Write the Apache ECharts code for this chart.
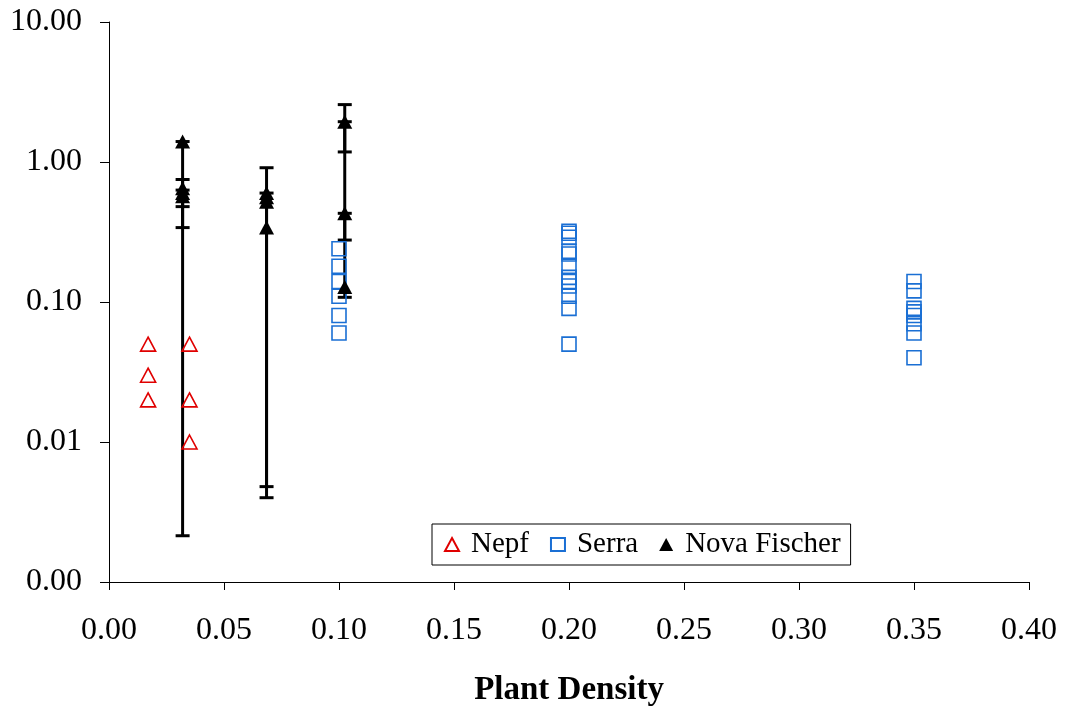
<!DOCTYPE html>
<html>
  <head>
    <meta charset="utf-8" />
    <title>Plant Density</title>
    <style>
      html, body { margin: 0; padding: 0; background: #fff; }
      #chart { width: 1069px; height: 706px; }
    </style>
  </head>
  <body>
    <div id="chart"></div>
    <script type="text/javascript" src="https://cdn.jsdelivr.net/npm/echarts@6/dist/echarts.min.js"></script>
    <script type="text/javascript">
      // Nepf (open red triangles)
      var nepfX = [0.017, 0.017, 0.017, 0.035, 0.035, 0.035];
      var nepfY = [0.05, 0.03, 0.02, 0.05, 0.02, 0.01];

      // Serra (open blue squares)
      var serraX = [0.10, 0.10, 0.10, 0.10, 0.10, 0.10,
                    0.20, 0.20, 0.20, 0.20, 0.20, 0.20, 0.20, 0.20, 0.20, 0.20, 0.20, 0.20,
                    0.35, 0.35, 0.35, 0.35, 0.35, 0.35, 0.35, 0.35];
      var serraY = [0.24, 0.18, 0.14, 0.11, 0.08, 0.06,
                    0.32, 0.31, 0.29, 0.23, 0.22, 0.18, 0.15, 0.14, 0.13, 0.11, 0.09, 0.05,
                    0.14, 0.12, 0.09, 0.085, 0.08, 0.07, 0.06, 0.04];

      // Nova & Fischer (filled black triangles)
      var novaX = [0.032, 0.032, 0.032, 0.032, 0.0685, 0.0685, 0.0685, 0.0685, 0.1025, 0.1025, 0.1025];
      var novaY = [1.40, 0.65, 0.60, 0.57, 0.60, 0.56, 0.52, 0.34, 1.94, 0.43, 0.128];

      // error bars for Nova & Fischer
      var errX = [0.032, 0.032, 0.032, 0.0685, 0.0685, 0.1025, 0.1025, 0.1025];
      var errLow = [0.00214, 0.48, 0.34, 0.0040, 0.0048, 1.18, 0.277, 0.108];
      var errHigh = [1.40, 0.75, 0.63, 0.91, 0.60, 2.57, 1.94, 0.43];

      var yTicks = [0.001, 0.01, 0.1, 1, 10];

      var font = "'Liberation Serif', 'Times New Roman', serif";

      function pairs(xs, ys) {
        var res = [];
        for (var i = 0; i < xs.length; i++) {
          res.push([xs[i], ys[i]]);
        }
        return res;
      }

      var errData = [];
      for (var i = 0; i < errX.length; i++) {
        errData.push([errX[i], errLow[i], errHigh[i]]);
      }

      function renderErr(params, api) {
        var lo = api.coord([api.value(0), api.value(1)]);
        var hi = api.coord([api.value(0), api.value(2)]);
        var hw = 7;
        var st = { stroke: "#000", lineWidth: 3 };
        return {
          type: "group",
          children: [
            { type: "line", shape: { x1: lo[0], y1: lo[1], x2: hi[0], y2: hi[1] }, style: st },
            { type: "line", shape: { x1: lo[0] - hw, y1: lo[1], x2: lo[0] + hw, y2: lo[1] }, style: st },
            { type: "line", shape: { x1: hi[0] - hw, y1: hi[1], x2: hi[0] + hw, y2: hi[1] }, style: st },
          ],
        };
      }

      var myChart = echarts.init(document.getElementById("chart"));

      var option = {
        backgroundColor: "#fff",
        animation: false,
        grid: {
          left: 109,
          right: 40,
          top: 22,
          bottom: 124,
          containLabel: false,
          outerBoundsMode: "none",
        },
        legend: {
          data: ["Nepf", "Serra", "Nova Fischer"],
          left: 432,
          top: 524,
          orient: "horizontal",
          borderColor: "#000",
          borderWidth: 1,
          padding: [6, 10, 6, 12],
          itemWidth: 14,
          itemHeight: 13,
          itemGap: 21,
          textStyle: {
            fontFamily: font,
            fontSize: 29,
            color: "#000",
            padding: [0, 0, 0, 7],
          },
        },
        xAxis: {
          type: "value",
          min: 0,
          max: 0.4,
          interval: 0.05,
          name: "Plant Density",
          nameLocation: "middle",
          nameGap: 92,
          nameTextStyle: {
            fontFamily: font,
            fontSize: 33,
            fontWeight: "bold",
            color: "#000",
          },
          axisLine: { onZero: false, lineStyle: { color: "#000", width: 1 } },
          axisTick: { show: true, inside: false, length: 8, lineStyle: { color: "#000" } },
          axisLabel: {
            fontFamily: font,
            fontSize: 32,
            color: "#000",
            margin: 33,
            formatter: function (v) {
              return v.toFixed(2);
            },
          },
          splitLine: { show: false },
        },
        yAxis: {
          type: "log",
          logBase: 10,
          min: yTicks[0],
          max: yTicks[yTicks.length - 1],
          axisLine: { show: true, lineStyle: { color: "#000", width: 1 } },
          axisTick: { show: true, inside: false, length: 9, lineStyle: { color: "#000" } },
          axisLabel: {
            fontFamily: font,
            fontSize: 32,
            color: "#000",
            margin: 27,
            formatter: function (v) {
              return Number(v).toFixed(2);
            },
          },
          splitLine: { show: false },
        },
        series: [
          {
            name: "errors",
            type: "custom",
            renderItem: renderErr,
            data: errData,
            encode: { x: 0, y: [1, 2] },
            z: 2,
          },
          {
            name: "Nepf",
            type: "scatter",
            symbol: "triangle",
            symbolSize: [15, 14],
            itemStyle: {
              color: "rgba(255,255,255,0)",
              borderColor: "#e00000",
              borderWidth: 1.6,
              opacity: 1,
            },
            data: pairs(nepfX, nepfY),
            z: 3,
          },
          {
            name: "Serra",
            type: "scatter",
            symbol: "rect",
            symbolSize: 14,
            itemStyle: {
              color: "rgba(255,255,255,0)",
              borderColor: "#1a6fd4",
              borderWidth: 1.6,
              opacity: 1,
            },
            data: pairs(serraX, serraY),
            z: 3,
          },
          {
            name: "Nova Fischer",
            type: "scatter",
            symbol: "triangle",
            symbolSize: [15, 14],
            itemStyle: {
              color: "#000",
              opacity: 1,
            },
            data: pairs(novaX, novaY),
            z: 4,
          },
        ],
      };

      myChart.setOption(option);
    </script>
  </body>
</html>
